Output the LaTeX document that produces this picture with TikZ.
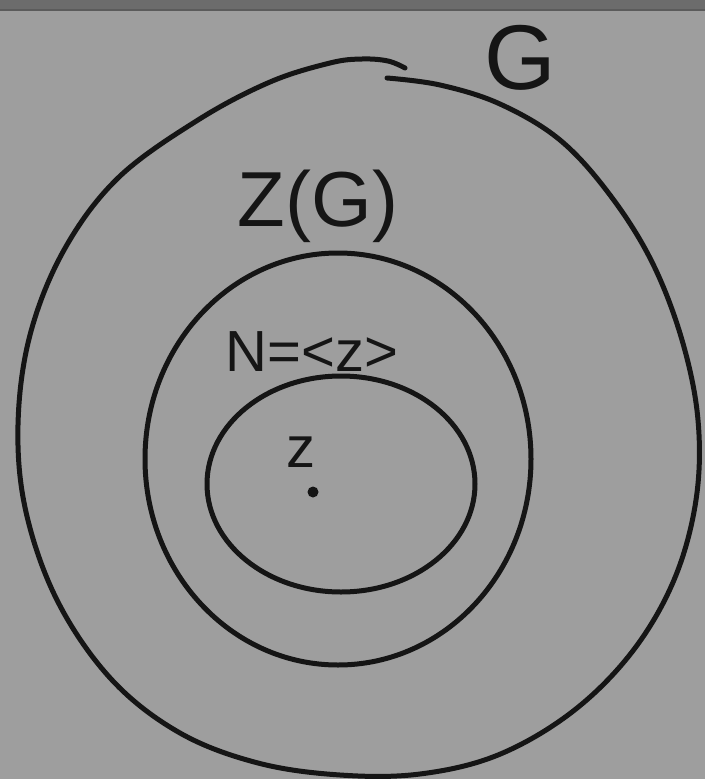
\documentclass[tikz,border=0pt]{standalone}
\usepackage{fontspec}
\setmainfont{Liberation Sans}
\definecolor{board}{HTML}{9E9E9E}
\definecolor{frame}{HTML}{6C6C6C}
\definecolor{ink}{HTML}{151515}
\begin{document}
\begin{tikzpicture}[x=1pt,y=-1pt,
  stroke/.style={draw=ink,line width=5pt,line cap=round,line join=round},
  lbl/.style={text=ink,inner sep=0pt}]
\fill[board] (0,0) rectangle (705,779);
\useasboundingbox (0,0) rectangle (705,779);
\fill[frame] (0,0) rectangle (705,10);
\draw[ink!70,line width=1.5pt] (0,10) -- (705,10);
% outer curve (G)
\draw[stroke] plot[smooth,tension=0.6] coordinates {
 (387,78) (440,85) (500,104) (560,140) (610,195) (652,262) (682,340)
 (698,420) (696,500) (674,580) (632,652) (572,712) (498,755) (420,774)
 (340,775) (258,763) (180,733) (112,680) (58,602) (26,512) (18,425)
 (30,335) (64,250) (118,178) (198,120) (270,82) (330,63) (362,59) (388,61) (405,68)};
% middle ellipse Z(G)
\draw[stroke] (338,459) ellipse [x radius=193,y radius=206];
% inner ellipse N
\draw[stroke] (341,484) ellipse [x radius=134,y radius=108];
% labels
\node[lbl,font=\fontsize{92}{92}\selectfont] (g) at (520,58) {G};
\node[lbl,font=\fontsize{78}{78}\selectfont] (zg) at (318,206) {Z(G)};
\node[lbl,font=\fontsize{58}{58}\selectfont] (n) at (312,352) {N=<z>};
\node[lbl,font=\fontsize{58}{58}\selectfont] (z) at (301,452) {z};
\fill[ink] (313,492) circle (5.5);
\end{tikzpicture}
\end{document}
